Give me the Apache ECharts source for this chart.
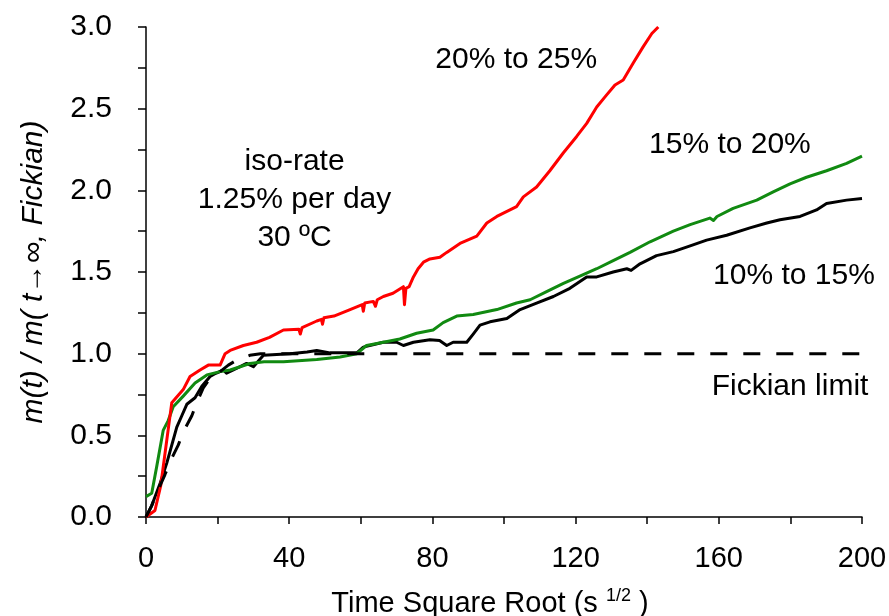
<!DOCTYPE html>
<html>
<head>
<meta charset="utf-8">
<script src="https://cdn.jsdelivr.net/npm/echarts@6/dist/echarts.min.js"></script>
<style>
  html, body { margin: 0; padding: 0; background: #fff; }
  #chart { width: 889px; height: 616px; }
</style>
</head>
<body>
<div id="chart"></div>
<script>
// Normalised mass uptake vs. square root of time, iso-rate 1.25 %/day at 30 ºC
const rate20to25 = [
  [0, 0], [2.5, 0.04], [4.1, 0.19], [5.8, 0.47], [7.2, 0.70], [10.4, 0.78], [12.3, 0.86],
  [15.1, 0.90], [17.4, 0.93], [20.7, 0.93], [22.1, 1.00], [23.5, 1.02], [27.2, 1.05],
  [30.9, 1.07], [34.5, 1.10], [38.4, 1.145], [42.7, 1.15], [43.1, 1.12], [43.6, 1.16],
  [47.7, 1.20], [49.0, 1.21], [49.3, 1.18], [49.7, 1.22], [52.5, 1.23], [57.0, 1.27],
  [60.4, 1.30], [60.7, 1.26], [61.1, 1.31], [63.5, 1.32], [64.1, 1.29], [64.6, 1.33],
  [66.3, 1.35], [69.0, 1.37], [71.9, 1.41], [72.2, 1.30], [72.6, 1.40], [73.5, 1.41],
  [74.7, 1.47], [76.0, 1.52], [77.5, 1.56], [79.3, 1.58], [82.1, 1.59], [84.0, 1.62],
  [87.7, 1.675], [92.4, 1.72], [95.2, 1.80], [98.0, 1.84], [103.5, 1.90], [105.4, 1.96],
  [109.1, 2.02], [112.8, 2.12], [116.6, 2.23], [120.3, 2.33], [123.1, 2.41], [125.9, 2.51],
  [128.5, 2.58], [131.0, 2.645], [133.3, 2.675], [136.1, 2.78], [138.9, 2.88],
  [141.3, 2.96], [143.1, 3.0]
];

const rate15to20 = [
  [0, 0.125], [1.6, 0.145], [3.0, 0.31], [4.8, 0.53], [6.2, 0.59], [7.6, 0.675],
  [10.4, 0.74], [13.7, 0.82], [17.0, 0.87], [20.7, 0.89], [23.5, 0.90], [26.3, 0.92],
  [29.0, 0.94], [33.0, 0.95], [38.4, 0.95], [47.7, 0.965], [54.2, 0.98], [58.9, 1.00],
  [61.6, 1.05], [66.3, 1.07], [70.9, 1.09], [75.6, 1.125], [80.2, 1.145], [83.0, 1.19],
  [86.8, 1.23], [91.4, 1.24], [98.0, 1.27], [103.5, 1.31], [107.3, 1.33], [111.9, 1.38],
  [116.6, 1.43], [121.2, 1.475], [125.9, 1.52], [130.5, 1.57], [135.2, 1.62],
  [140.8, 1.685], [147.3, 1.75], [152.0, 1.79], [157.5, 1.83], [158.5, 1.815],
  [159.5, 1.84], [164.0, 1.89], [170.6, 1.94], [175.2, 1.99], [179.9, 2.04],
  [184.5, 2.08], [190.1, 2.12], [195.7, 2.165], [200, 2.21]
];

const rate10to15 = [
  [0, 0], [1.6, 0.07], [4.0, 0.21], [5.8, 0.33], [7.2, 0.44], [8.6, 0.55], [10.0, 0.62],
  [11.4, 0.69], [13.7, 0.73], [15.6, 0.80], [17.9, 0.86], [19.5, 0.88], [21.6, 0.90],
  [22.5, 0.88], [24.4, 0.90], [28.1, 0.94], [30.0, 0.92], [32.8, 0.99], [40.2, 1.00],
  [45.0, 1.01], [47.7, 1.02], [51.4, 1.005], [58.9, 1.005], [60.7, 1.04], [66.3, 1.07],
  [70.0, 1.07], [71.9, 1.05], [74.7, 1.07], [79.3, 1.085], [82.0, 1.08], [84.0, 1.05],
  [85.8, 1.07], [89.6, 1.07], [91.4, 1.12], [93.3, 1.175], [96.1, 1.195], [100.8, 1.215],
  [104.5, 1.27], [109.1, 1.31], [113.8, 1.35], [118.4, 1.40], [123.1, 1.47], [125.9, 1.47],
  [130.5, 1.50], [134.3, 1.52], [135.5, 1.51], [138.0, 1.55], [142.6, 1.60], [147.3, 1.625],
  [152.0, 1.66], [156.6, 1.695], [162.2, 1.725], [168.7, 1.77], [173.4, 1.80],
  [177.1, 1.82], [182.7, 1.84], [187.3, 1.88], [190.1, 1.92], [195.7, 1.94], [200, 1.95]
];

const fickianLimit = [
  [0, 0], [1.6, 0.07], [3.9, 0.19], [5.3, 0.26], [7.2, 0.36], [9.0, 0.44], [10.4, 0.52],
  [12.8, 0.62], [14.2, 0.70], [16.0, 0.79], [17.9, 0.85], [20.7, 0.89], [23.0, 0.93],
  [25.3, 0.96], [29.0, 0.99], [32.0, 1.0], [200, 1.0]
];

// Text annotations, anchored in data coordinates
const notes = [
  { name: 'iso-rate\n1.25% per day\n30 ºC', value: [41.5, 1.94] },
  { name: '20% to 25%', value: [103.4, 2.80] },
  { name: '15% to 20%', value: [163.1, 2.28] },
  { name: '10% to 15%', value: [181.0, 1.48] },
  { name: 'Fickian limit', value: [179.9, 0.80] }
];

const FONT = "'Liberation Sans', Arial, Helvetica, sans-serif";

const chart = echarts.init(document.getElementById('chart'), null, { renderer: 'canvas' });

function curve(name, data, color, dashed) {
  return {
    name, type: 'line', data, showSymbol: false, symbol: 'none', animation: false,
    clip: true,
    lineStyle: dashed
      ? { color, width: 3, type: [17, 16], cap: 'butt' }
      : { color, width: 3, join: 'round' },
    z: dashed ? 3 : 2
  };
}

chart.setOption({
  backgroundColor: '#ffffff',
  animation: false,
  grid: { left: 146, right: 27, top: 27, bottom: 99, containLabel: false, outerBoundsMode: 'none' },
  xAxis: {
    type: 'value', min: 0, max: 200, interval: 20,
    axisLine: { show: true, onZero: false, lineStyle: { color: '#000', width: 1.5 } },
    axisTick: { show: true, inside: false, length: 7, lineStyle: { color: '#000', width: 1.5 } },
    splitLine: { show: false },
    axisLabel: {
      margin: 27, color: '#000', fontSize: 29, fontFamily: FONT,
      formatter: v => (Math.round(v) % 40 === 0 ? String(Math.round(v)) : '')
    },
    name: 'Time Square Root (s {sup|1/2} )',
    nameLocation: 'middle', nameGap: 70,
    nameTextStyle: {
      color: '#000', fontSize: 29, fontFamily: FONT, lineHeight: 34,
      padding: [0, 28, 0, 0],
      rich: { sup: { fontSize: 18, fontFamily: FONT, color: '#000', verticalAlign: 'top', lineHeight: 18 } }
    }
  },
  yAxis: {
    type: 'value', min: 0, max: 3, interval: 0.25,
    axisLine: { show: true, onZero: false, lineStyle: { color: '#000', width: 1.5 } },
    axisTick: { show: true, inside: false, length: 8, lineStyle: { color: '#000', width: 1.5 } },
    splitLine: { show: false },
    axisLabel: {
      margin: 34, color: '#000', fontSize: 30, fontFamily: FONT,
      formatter: v => (Math.round(v * 4) % 2 === 0 ? v.toFixed(1) : '')
    },
    name: 'm(t) / m( t→∞, Fickian)',
    nameLocation: 'middle', nameRotate: 90, nameGap: 97,
    nameTextStyle: { color: '#000', fontSize: 30, fontStyle: 'italic', fontFamily: FONT }
  },
  series: [
    curve('10% to 15%', rate10to15, '#000000', false),
    curve('15% to 20%', rate15to20, '#118a11', false),
    curve('20% to 25%', rate20to25, '#ff0000', false),
    curve('Fickian limit', fickianLimit, '#000000', true),
    {
      type: 'scatter', data: notes, symbolSize: 0, silent: true, clip: false, z: 5,
      itemStyle: { opacity: 1, color: 'transparent' },
      label: {
        show: true, position: 'inside', formatter: p => p.name, opacity: 1,
        color: '#000', fontSize: 30, fontFamily: FONT, lineHeight: 38, align: 'center'
      }
    }
  ]
});
</script>
</body>
</html>
